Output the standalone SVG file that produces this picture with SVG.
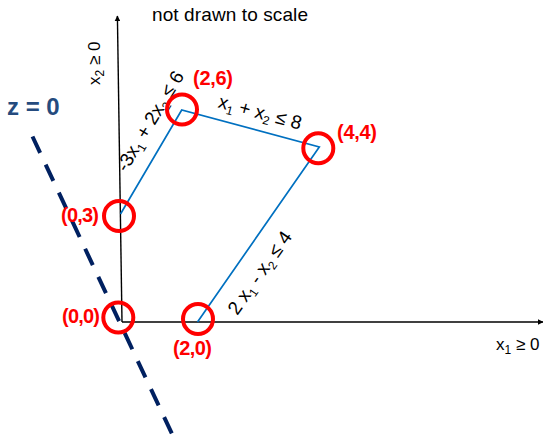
<svg xmlns="http://www.w3.org/2000/svg" width="543" height="435" viewBox="0 0 543 435">
<defs>
<marker id="arr" viewBox="0 0 10 10" refX="9" refY="5" markerWidth="6" markerHeight="6" orient="auto" markerUnits="userSpaceOnUse">
<path d="M0,0 L10,5 L0,10 z" fill="#000"/>
</marker>
<style>
.axis{stroke:#000;stroke-width:1.4;fill:none}
.edge{stroke:#0070C0;stroke-width:1.7;fill:none}
.ring{stroke:#FF0000;stroke-width:4;fill:none}
.pt{font-family:"Liberation Sans",Arial,sans-serif;font-weight:bold;font-size:20px;fill:#FF0000}
.lbl{font-family:"Liberation Sans",Arial,sans-serif;font-size:19px;fill:#000}
.ax{font-family:"Liberation Sans",Arial,sans-serif;font-size:17px;fill:#000}
.sub{font-size:12px}
.zline{stroke:#002060;stroke-width:4;stroke-dasharray:18 13;fill:none}
</style>
</defs>
<text x="152" y="21" font-family="'Liberation Sans',Arial,sans-serif" font-size="19" fill="#000" textLength="156">not drawn to scale</text>
<g id="connectors">
<line id="y-axis" class="axis" x1="122" y1="322" x2="117.4" y2="16" marker-end="url(#arr)"/>
<line id="x-axis" class="axis" x1="122" y1="322" x2="543" y2="322" marker-end="url(#arr)"/>
<polyline id="feasible" class="edge" points="120.5,214 181.7,110 319.3,147 197.5,322"/>
<line id="z0" class="zline" x1="32.5" y1="136.5" x2="172.5" y2="435"/>
</g>
<g id="axis-labels">
<text class="ax" transform="translate(100,85) rotate(-90)">x<tspan class="sub" dy="4">2</tspan><tspan dy="-4"> ≥ 0</tspan></text>
<text class="ax" x="496" y="350">x<tspan class="sub" dy="4">1</tspan><tspan dy="-4"> ≥ 0</tspan></text>
</g>
<g id="constraint-labels">
<text class="lbl" text-anchor="middle" transform="translate(155.5,124.5) rotate(-59)">-3x<tspan class="sub" dy="4">1</tspan><tspan dy="-4"> + 2x</tspan><tspan class="sub" dy="4">2</tspan><tspan dy="-4"> ≤ 6</tspan></text>
<text class="lbl" text-anchor="middle" transform="translate(258.5,118.5) rotate(15.1)">x<tspan class="sub" dy="4">1</tspan><tspan dy="-4"> + x</tspan><tspan class="sub" dy="4">2</tspan><tspan dy="-4"> ≤ 8</tspan></text>
<text class="lbl" text-anchor="middle" transform="translate(265,276.5) rotate(-55)">2 x<tspan class="sub" dy="4">1</tspan><tspan dy="-4"> - x</tspan><tspan class="sub" dy="4">2</tspan><tspan dy="-4"> ≤ 4</tspan></text>
</g>
<g id="z-label">
<text x="7" y="115" font-family="'Liberation Sans',Arial,sans-serif" font-weight="bold" font-size="24" fill="#254B7E">z = 0</text>
</g>
<g id="v00"><circle class="ring" cx="118.3" cy="317.5" r="15"/><text class="pt" x="62" y="323" textLength="38">(0,0)</text></g>
<g id="v20"><circle class="ring" cx="198" cy="319" r="15"/><text class="pt" x="173" y="355" textLength="39">(2,0)</text></g>
<g id="v03"><circle class="ring" cx="119" cy="216" r="15"/><text class="pt" x="61" y="222" textLength="38">(0,3)</text></g>
<g id="v26"><circle class="ring" cx="182" cy="109.5" r="15"/><text class="pt" x="193" y="85" textLength="40">(2,6)</text></g>
<g id="v44"><circle class="ring" cx="318.3" cy="148.3" r="15"/><text class="pt" x="337" y="139" textLength="40">(4,4)</text></g>
</svg>
